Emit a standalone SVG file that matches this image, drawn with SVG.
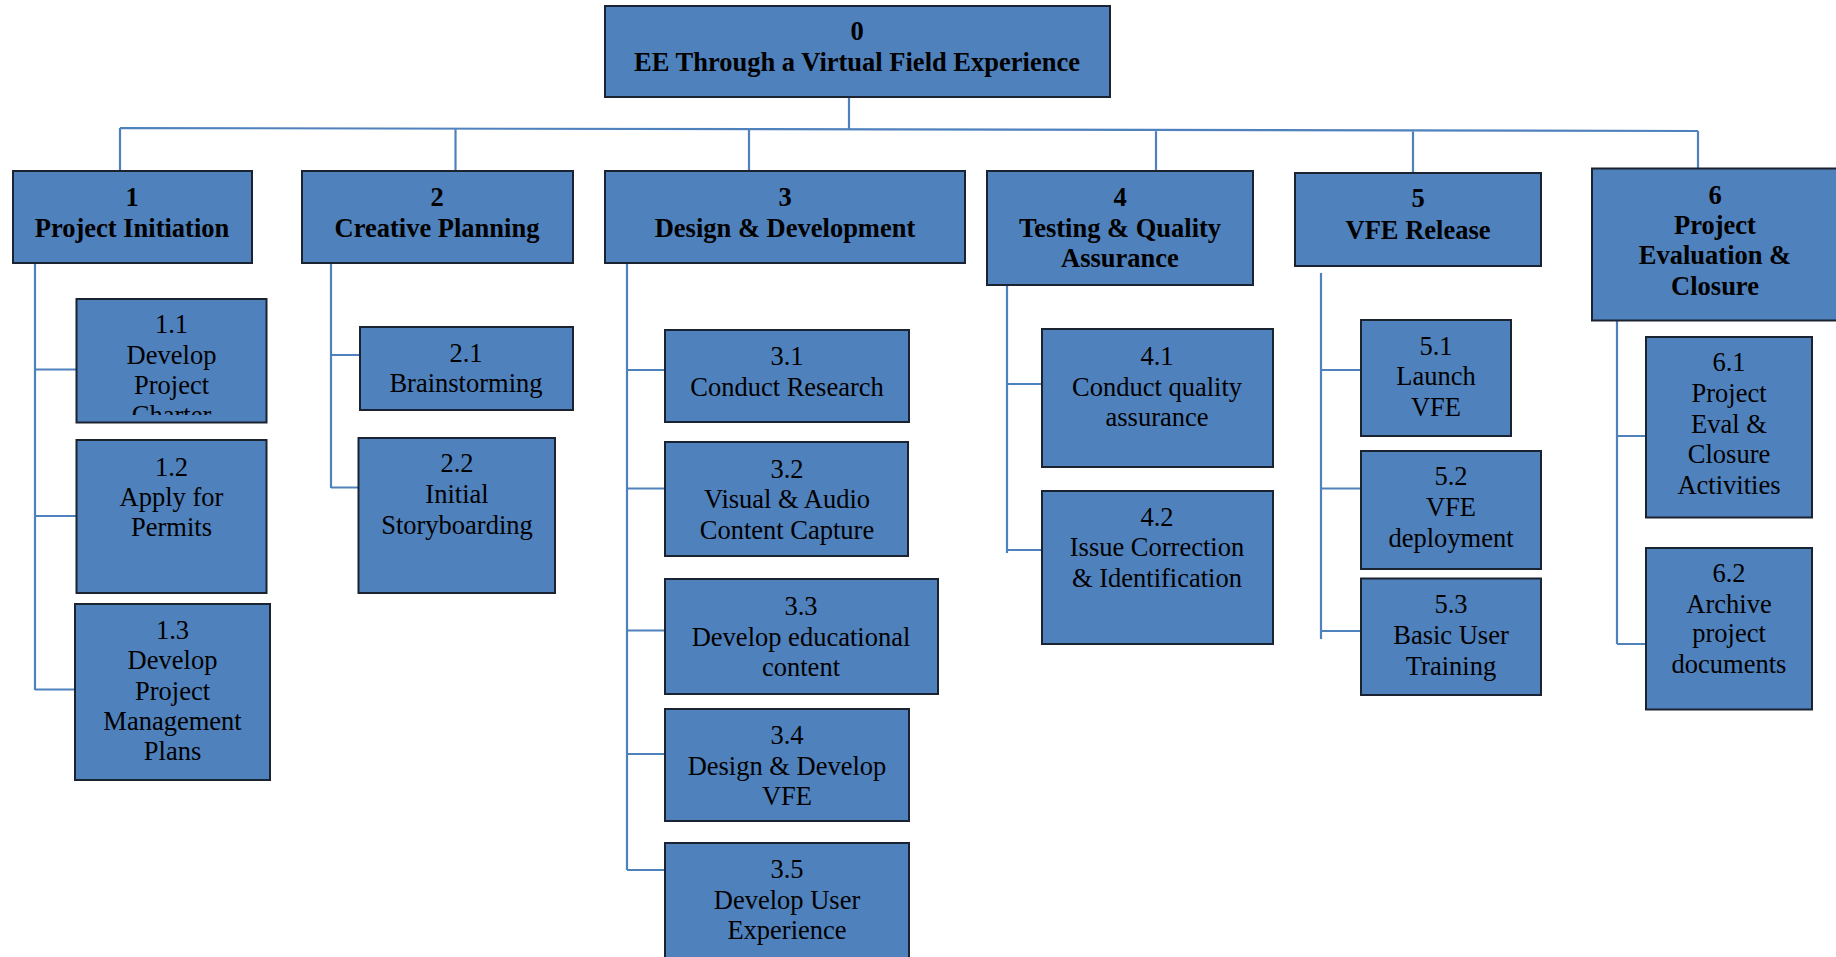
<svg xmlns="http://www.w3.org/2000/svg" width="1836" height="957" viewBox="0 0 1836 957">
<style>
.box{fill:#4F81BD;stroke:#1b2230;stroke-width:2}
.t{font-family:"Liberation Serif","Times New Roman",serif;font-size:26.5px;fill:#000;text-anchor:middle}
.b{font-weight:bold}
.c{fill:none;stroke:#4F81BD;stroke-width:2.2}
</style>
<defs>
<clipPath id="clip11"><rect x="77" y="300" width="189" height="115"/></clipPath>
</defs>
<rect width="1836" height="957" fill="#fff"/>
<g id="connectors">
<path class="c" d="M849,98 V129 M120,128 L1698,131 M120,128 V171 M455.5,129 V171 M749,129 V171 M1156,130 V171 M1413,130 V173 M1698,131 V169"/>
<path class="c" d="M35,263 V690 M35,369.5 H77 M35,516 H77 M35,689.5 H75"/>
<path class="c" d="M331,263 V488 M331,355 H360 M331,487.5 H359"/>
<path class="c" d="M627,263 V870 M627,370 H665 M627,488.5 H665 M627,630.5 H665 M627,754 H665 M627,870 H665"/>
<path class="c" d="M1007,285 V553 M1007,384 H1042 M1007,550 H1042"/>
<path class="c" d="M1321,273 V639 M1321,370 H1361 M1321,488.5 H1361 M1321,631 H1361"/>
<path class="c" d="M1617,320 V644 M1617,436 H1646 M1617,644 H1646"/>
</g>
<g id="n0"><rect class="box" x="605" y="6" width="505" height="91"/>
<text class="t b" x="857" y="40">0</text><text class="t b" x="857" y="71">EE Through a Virtual Field Experience</text></g>
<g id="n1"><rect class="box" x="13" y="171" width="239" height="92"/>
<text class="t b" x="132" y="206">1</text><text class="t b" x="132" y="237">Project Initiation</text></g>
<g id="n2"><rect class="box" x="302" y="171" width="271" height="92"/>
<text class="t b" x="437" y="206">2</text><text class="t b" x="437" y="237">Creative Planning</text></g>
<g id="n3"><rect class="box" x="605" y="171" width="360" height="92"/>
<text class="t b" x="785" y="206">3</text><text class="t b" x="785" y="237">Design &amp; Development</text></g>
<g id="n4"><rect class="box" x="987" y="171" width="266" height="114"/>
<text class="t b" x="1120" y="206">4</text><text class="t b" x="1120" y="237">Testing &amp; Quality</text><text class="t b" x="1120" y="267">Assurance</text></g>
<g id="n5"><rect class="box" x="1295" y="173" width="246" height="93"/>
<text class="t b" x="1418" y="207">5</text><text class="t b" x="1418" y="239">VFE Release</text></g>
<g id="n6"><rect class="box" x="1592" y="168.5" width="250" height="152"/>
<text class="t b" x="1715" y="204">6</text><text class="t b" x="1715" y="234">Project</text><text class="t b" x="1715" y="264">Evaluation &amp;</text><text class="t b" x="1715" y="295">Closure</text></g>
<g id="n1_1"><rect class="box" x="76.5" y="299" width="190" height="123.5"/>
<g clip-path="url(#clip11)"><text class="t" x="171.5" y="333">1.1</text><text class="t" x="171.5" y="364">Develop</text><text class="t" x="171.5" y="394">Project</text><text class="t" x="171.5" y="424">Charter</text></g></g>
<g id="n1_2"><rect class="box" x="76.5" y="440" width="190" height="153"/>
<text class="t" x="171.5" y="476">1.2</text><text class="t" x="171.5" y="506">Apply for</text><text class="t" x="171.5" y="536">Permits</text></g>
<g id="n1_3"><rect class="box" x="75" y="604" width="195" height="176"/>
<text class="t" x="172.5" y="639">1.3</text><text class="t" x="172.5" y="669">Develop</text><text class="t" x="172.5" y="700">Project</text><text class="t" x="172.5" y="730">Management</text><text class="t" x="172.5" y="760">Plans</text></g>
<g id="n2_1"><rect class="box" x="360" y="327" width="213" height="83"/>
<text class="t" x="466" y="362">2.1</text><text class="t" x="466" y="392">Brainstorming</text></g>
<g id="n2_2"><rect class="box" x="358.5" y="438" width="196.5" height="155"/>
<text class="t" x="457" y="472">2.2</text><text class="t" x="457" y="503">Initial</text><text class="t" x="457" y="534">Storyboarding</text></g>
<g id="n3_1"><rect class="box" x="665" y="330" width="244" height="92"/>
<text class="t" x="787" y="365">3.1</text><text class="t" x="787" y="396">Conduct Research</text></g>
<g id="n3_2"><rect class="box" x="665" y="442" width="243" height="114"/>
<text class="t" x="787" y="478">3.2</text><text class="t" x="787" y="508">Visual &amp; Audio</text><text class="t" x="787" y="539">Content Capture</text></g>
<g id="n3_3"><rect class="box" x="665" y="579" width="273" height="115"/>
<text class="t" x="801" y="615">3.3</text><text class="t" x="801" y="646">Develop educational</text><text class="t" x="801" y="676">content</text></g>
<g id="n3_4"><rect class="box" x="665" y="709" width="244" height="112"/>
<text class="t" x="787" y="744">3.4</text><text class="t" x="787" y="775">Design &amp; Develop</text><text class="t" x="787" y="805">VFE</text></g>
<g id="n3_5"><rect class="box" x="665" y="843" width="244" height="130"/>
<text class="t" x="787" y="878">3.5</text><text class="t" x="787" y="909">Develop User</text><text class="t" x="787" y="939">Experience</text></g>
<g id="n4_1"><rect class="box" x="1042" y="329" width="231" height="138"/>
<text class="t" x="1157" y="365">4.1</text><text class="t" x="1157" y="396">Conduct quality</text><text class="t" x="1157" y="426">assurance</text></g>
<g id="n4_2"><rect class="box" x="1042" y="491" width="231" height="153"/>
<text class="t" x="1157" y="526">4.2</text><text class="t" x="1157" y="556">Issue Correction</text><text class="t" x="1157" y="587">&amp; Identification</text></g>
<g id="n5_1"><rect class="box" x="1361" y="320" width="150" height="116"/>
<text class="t" x="1436" y="355">5.1</text><text class="t" x="1436" y="385">Launch</text><text class="t" x="1436" y="416">VFE</text></g>
<g id="n5_2"><rect class="box" x="1361" y="451" width="180" height="118"/>
<text class="t" x="1451" y="485">5.2</text><text class="t" x="1451" y="516">VFE</text><text class="t" x="1451" y="547">deployment</text></g>
<g id="n5_3"><rect class="box" x="1361" y="578.5" width="180" height="116.5"/>
<text class="t" x="1451" y="613">5.3</text><text class="t" x="1451" y="644">Basic User</text><text class="t" x="1451" y="675">Training</text></g>
<g id="n6_1"><rect class="box" x="1646" y="337" width="166" height="180.5"/>
<text class="t" x="1729" y="371">6.1</text><text class="t" x="1729" y="402">Project</text><text class="t" x="1729" y="433">Eval &amp;</text><text class="t" x="1729" y="463">Closure</text><text class="t" x="1729" y="494">Activities</text></g>
<g id="n6_2"><rect class="box" x="1646" y="548" width="166" height="161.5"/>
<text class="t" x="1729" y="582">6.2</text><text class="t" x="1729" y="613">Archive</text><text class="t" x="1729" y="642">project</text><text class="t" x="1729" y="673">documents</text></g>
</svg>
